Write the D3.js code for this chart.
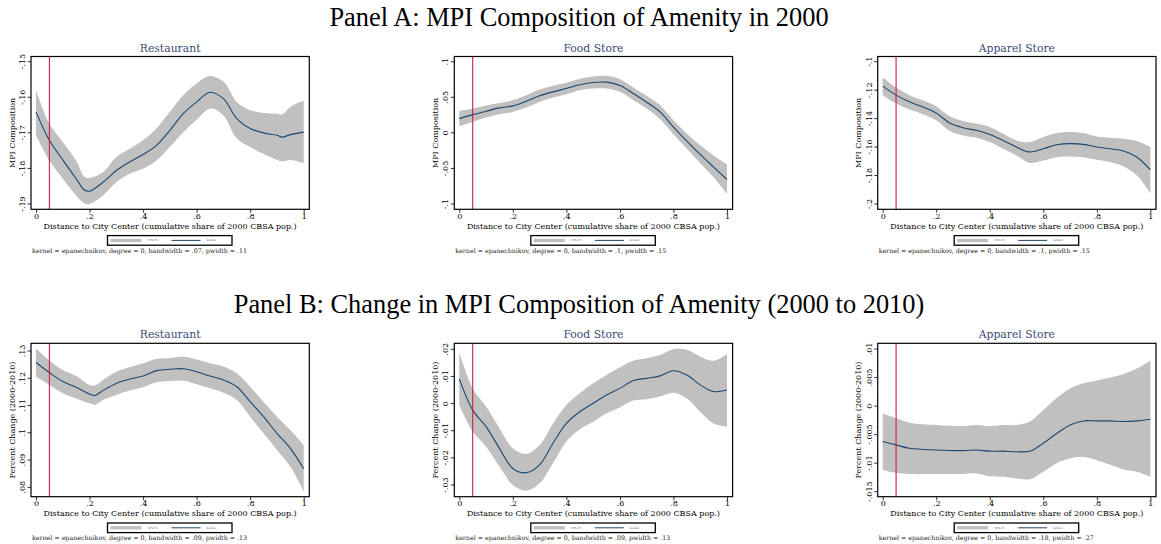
<!DOCTYPE html>
<html><head><meta charset="utf-8">
<script src="https://cdn.jsdelivr.net/npm/d3@7"></script>
<style>body{margin:0;background:#fff}svg{display:block}</style>
</head><body><div id="chart"></div>
<script>
// ---------- DATA ----------
const panelTitles = ["Panel A: MPI Composition of Amenity in 2000", "Panel B: Change in MPI Composition of Amenity (2000 to 2010)"];
const amenities = ["Restaurant", "Food Store", "Apparel Store"];
const yAxisTitles = ["MPI Composition", "Percent Change (2000-2010)"];
const xAxisTitle = "Distance to City Center (cumulative share of 2000 CBSA pop.)";
const xTicks = [0, .2, .4, .6, .8, 1];
const xTickLabels = ["0", ".2", ".4", ".6", ".8", "1"];
const cutoff = 0.05;
const legendLabels = ["95% CI", "Kernel"];

// Panel A, Restaurant
const aRestX   = [0,.05,.1,.15,.18,.2,.25,.3,.35,.4,.45,.5,.55,.6,.65,.7,.75,.8,.85,.9,.92,.95,1];
const aRestFit = [-.1641,-.1721,-.1776,-.1829,-.1860,-.1864,-.1839,-.1806,-.1782,-.1761,-.1735,-.1693,-.1646,-.1613,-.1586,-.1604,-.1660,-.1688,-.1700,-.1707,-.1712,-.1705,-.1698];
const aRestHi  = [-.1580,-.1674,-.1726,-.1778,-.1823,-.1827,-.1811,-.1768,-.1745,-.1721,-.1688,-.1641,-.1594,-.1561,-.1540,-.1556,-.1613,-.1636,-.1644,-.1646,-.1648,-.1627,-.1610];
const aRestLo  = [-.1707,-.1778,-.1829,-.1876,-.1898,-.1900,-.1876,-.1839,-.1815,-.1801,-.1778,-.1740,-.1698,-.1663,-.1632,-.1651,-.1716,-.1740,-.1759,-.1776,-.1780,-.1776,-.1785];
const aRestTicks = [-.19,-.18,-.17,-.16,-.15];
const aRestTickLabels = ["-.19","-.18","-.17","-.16","-.15"];
const aRestNote = "kernel = epanechnikov, degree = 0, bandwidth = .07, pwidth = .11";

// Panel A, Food Store
const aFoodX   = [0,.05,.1,.15,.2,.25,.3,.35,.4,.45,.5,.55,.6,.65,.7,.75,.8,.85,.9,.95,1];
const aFoodFit = [.0200,.0256,.0304,.0351,.0379,.0445,.0520,.0576,.0624,.0675,.0708,.0713,.0666,.0553,.0431,.0294,.0082,-.0115,-.0304,-.0482,-.0656];
const aFoodHi  = [.0304,.0341,.0384,.0421,.0459,.0529,.0609,.0661,.0704,.0760,.0793,.0802,.0755,.0638,.0520,.0388,.0176,-.0012,-.0176,-.0318,-.0445];
const aFoodLo  = [.0092,.0153,.0214,.0261,.0294,.0355,.0435,.0496,.0544,.0600,.0624,.0624,.0576,.0459,.0341,.0191,-.0021,-.0224,-.0426,-.0624,-.0859];
const aFoodTicks = [-.1,-.05,0,.05,.1];
const aFoodTickLabels = ["-.1","-.05","0",".05",".1"];
const aFoodNote = "kernel = epanechnikov, degree = 0, bandwidth = .1, pwidth = .15";

// Panel A, Apparel Store
const aAppX   = [0,.05,.1,.15,.2,.25,.3,.35,.4,.45,.5,.55,.6,.65,.7,.75,.8,.85,.9,.95,1];
const aAppFit = [-.1172,-.1235,-.1282,-.1318,-.1360,-.1431,-.1464,-.1482,-.1511,-.1553,-.1600,-.1635,-.1612,-.1584,-.1576,-.1581,-.1600,-.1612,-.1628,-.1671,-.1760];
const aAppHi  = [-.1111,-.1181,-.1235,-.1271,-.1313,-.1384,-.1416,-.1435,-.1459,-.1506,-.1553,-.1565,-.1529,-.1501,-.1494,-.1501,-.1525,-.1534,-.1541,-.1558,-.1600];
const aAppLo  = [-.1235,-.1294,-.1336,-.1369,-.1412,-.1487,-.1518,-.1534,-.1565,-.1612,-.1659,-.1711,-.1694,-.1671,-.1666,-.1671,-.1689,-.1706,-.1736,-.1800,-.1925];
const aAppTicks = [-.2,-.18,-.16,-.14,-.12,-.1];
const aAppTickLabels = ["-.2","-.18","-.16","-.14","-.12","-.1"];
const aAppNote = "kernel = epanechnikov, degree = 0, bandwidth = .1, pwidth = .15";

// Panel B, Restaurant
const bRestX   = [0,.05,.1,.15,.2,.22,.25,.3,.35,.4,.45,.5,.55,.6,.65,.7,.75,.8,.85,.9,.95,1];
const bRestFit = [.1258,.1221,.1188,.1167,.1142,.1137,.1155,.1181,.1197,.1208,.1228,.1233,.1235,.1224,.1208,.1194,.1169,.1114,.1059,.0998,.0943,.0868];
const bRestHi  = [.1310,.1265,.1230,.1208,.1175,.1173,.1194,.1224,.1240,.1255,.1271,.1274,.1279,.1269,.1255,.1243,.1218,.1169,.1114,.1059,.1010,.0955];
const bRestLo  = [.1206,.1175,.1145,.1126,.1108,.1102,.1120,.1139,.1155,.1167,.1185,.1190,.1191,.1178,.1163,.1147,.1120,.1059,.0998,.0937,.0876,.0784];
const bRestTicks = [.08,.09,.1,.11,.12,.13];
const bRestTickLabels = [".08",".09",".1",".11",".12",".13"];
const bRestNote = "kernel = epanechnikov, degree = 0, bandwidth = .09, pwidth = .13";

// Panel B, Food Store
const bFoodX   = [0,.05,.1,.15,.2,.25,.3,.35,.4,.45,.5,.55,.6,.65,.7,.75,.8,.85,.9,.95,1];
const bFoodFit = [.0091,-.0024,-.0085,-.0165,-.0239,-.0255,-.0226,-.0146,-.0073,-.0030,.0001,.0032,.0056,.0085,.0093,.0102,.0121,.0105,.0069,.0044,.0050];
const bFoodHi  = [.0188,.0056,-.0011,-.0091,-.0165,-.0186,-.0153,-.0073,-.0005,.0038,.0075,.0105,.0134,.0158,.0167,.0179,.0200,.0198,.0173,.0158,.0183];
const bFoodLo  = [-.0005,-.0103,-.0159,-.0232,-.0300,-.0321,-.0294,-.0220,-.0140,-.0095,-.0067,-.0036,-.0014,.0011,.0016,.0026,.0040,.0019,-.0030,-.0073,-.0085];
const bFoodTicks = [-.03,-.02,-.01,0,.01,.02];
const bFoodTickLabels = ["-.03","-.02","-.01","0",".01",".02"];
const bFoodNote = "kernel = epanechnikov, degree = 0, bandwidth = .09, pwidth = .13";

// Panel B, Apparel Store
const bAppX   = [0,.05,.1,.2,.3,.35,.4,.45,.5,.55,.6,.65,.7,.75,.8,.85,.9,.95,1];
const bAppFit = [-.0062,-.0068,-.0074,-.0077,-.0078,-.0077,-.0079,-.0079,-.0080,-.0079,-.0065,-.0048,-.0033,-.0026,-.0026,-.0026,-.0027,-.0026,-.0023];
const bAppHi  = [-.0013,-.0021,-.0029,-.0033,-.0035,-.0033,-.0035,-.0033,-.0033,-.0027,-.0007,.0014,.0031,.0040,.0045,.0050,.0056,.0066,.0080];
const bAppLo  = [-.0112,-.0117,-.0119,-.0119,-.0119,-.0118,-.0123,-.0124,-.0127,-.0128,-.0115,-.0100,-.0092,-.0089,-.0095,-.0103,-.0111,-.0115,-.0124];
const bAppTicks = [-.015,-.01,-.005,0,.005,.01];
const bAppTickLabels = ["-.015","-.01","-.005","0",".005",".01"];
const bAppNote = "kernel = epanechnikov, degree = 0, bandwidth = .18, pwidth = .27";

// ---------- LAYOUT ----------
const W = 1161, H = 544;
const colLeft = [31, 454.3, 877.7];
const frameW = 278.3;
const rowFrame = [[56.5, 209.3], [343.3, 496.7]];
const titleBaseline = [26, 312.5];
// pixel position of lowest and highest y tick in each panel
const tickPx = [
  [[204, 61.7], [204, 61.7], [204, 61.7]],
  [[487.3, 351], [485, 349.3], [491.7, 349]]
];

const panels = [
  [
    {x:aRestX, fit:aRestFit, lo:aRestLo, hi:aRestHi, ticks:aRestTicks, labels:aRestTickLabels, note:aRestNote},
    {x:aFoodX, fit:aFoodFit, lo:aFoodLo, hi:aFoodHi, ticks:aFoodTicks, labels:aFoodTickLabels, note:aFoodNote},
    {x:aAppX, fit:aAppFit, lo:aAppLo, hi:aAppHi, ticks:aAppTicks, labels:aAppTickLabels, note:aAppNote}
  ],
  [
    {x:bRestX, fit:bRestFit, lo:bRestLo, hi:bRestHi, ticks:bRestTicks, labels:bRestTickLabels, note:bRestNote},
    {x:bFoodX, fit:bFoodFit, lo:bFoodLo, hi:bFoodHi, ticks:bFoodTicks, labels:bFoodTickLabels, note:bFoodNote},
    {x:bAppX, fit:bAppFit, lo:bAppLo, hi:bAppHi, ticks:bAppTicks, labels:bAppTickLabels, note:bAppNote}
  ]
];

const CI = "#c0c0c0", NAVY = "#1a476f", RED = "#cc1f45", SUBT = "#3b4a78";
const serif = "DejaVu Serif, serif";
const AX = 8.0;

const svg = d3.select("#chart").append("svg").attr("width", W).attr("height", H);

panelTitles.forEach((t, r) => {
  svg.append("text").attr("x", 579).attr("y", titleBaseline[r]).attr("text-anchor", "middle")
    .attr("font-family", "Liberation Serif, Times New Roman, serif")
    .attr("font-size", 26.4).attr("fill", "#000").text(t);
});

panels.forEach((row, r) => {
  row.forEach((p, c) => {
    const L = colLeft[c], R = L + frameW, T = rowFrame[r][0], B = rowFrame[r][1];
    const x = d3.scaleLinear().domain([0, 1]).range([L + 5, R - 5.6]);
    const tk = p.ticks;
    const y = d3.scaleLinear().domain([tk[0], tk[tk.length - 1]]).range(tickPx[r][c]);
    const g = svg.append("g");

    // CI band
    const rows = p.x.map((v, i) => ({x: v, fit: p.fit[i], lo: p.lo[i], hi: p.hi[i]}));
    const area = d3.area().x(d => x(d.x)).y0(d => y(d.lo)).y1(d => y(d.hi)).curve(d3.curveCatmullRom.alpha(0.5));
    g.append("path").datum(rows).attr("d", area).attr("fill", CI);
    const line = d3.line().x(d => x(d.x)).y(d => y(d.fit)).curve(d3.curveCatmullRom.alpha(0.5));
    g.append("path").datum(rows).attr("d", line).attr("fill", "none").attr("stroke", NAVY).attr("stroke-width", 1.1);

    // cutoff line
    g.append("line").attr("x1", x(cutoff)).attr("x2", x(cutoff)).attr("y1", T).attr("y2", B)
      .attr("stroke", RED).attr("stroke-width", 1.1);

    // frame
    g.append("rect").attr("x", L).attr("y", T).attr("width", frameW).attr("height", B - T)
      .attr("fill", "none").attr("stroke", "#000").attr("stroke-width", 1.2);

    // x axis
    const xa = g.append("g").attr("transform", `translate(0,${B})`)
      .call(d3.axisBottom(x).tickValues(xTicks).tickFormat((d, i) => xTickLabels[i]).tickSize(3.5).tickPadding(0.5));
    xa.select(".domain").remove();
    xa.selectAll("line").attr("stroke", "#000").attr("stroke-width", 0.8);
    xa.selectAll("text").attr("font-family", serif).attr("font-size", AX).attr("fill", "#000");

    // y axis
    const ya = g.append("g").attr("transform", `translate(${L},0)`)
      .call(d3.axisLeft(y).tickValues(tk).tickFormat((d, i) => p.labels[i]).tickSize(3.5).tickPadding(2));
    ya.select(".domain").remove();
    ya.selectAll("line").attr("stroke", "#000").attr("stroke-width", 0.8);
    ya.selectAll("text").attr("font-family", serif).attr("font-size", AX).attr("fill", "#000")
      .attr("text-anchor", "middle").attr("dominant-baseline", "auto")
      .attr("x", 0).attr("dy", 0)
      .attr("transform", d => `translate(${-6.2},${y(d)}) rotate(-90)`).attr("y", 0);
    ya.selectAll(".tick").attr("transform", null);
    ya.selectAll(".tick line").attr("transform", d => `translate(0,${y(d)})`);

    // subtitle
    g.append("text").attr("x", (L + R) / 2).attr("y", T - 5).attr("text-anchor", "middle")
      .attr("font-family", serif).attr("font-size", 10.8)
      .attr("fill", SUBT).text(amenities[c]);

    // y title
    g.append("text").attr("transform", `translate(${L - 16.5},${(T + B) / 2}) rotate(-90)`)
      .attr("text-anchor", "middle")
      .attr("font-family", serif).attr("font-size", AX).attr("fill", "#000").text(yAxisTitles[r]);

    // x title
    g.append("text").attr("x", (L + R) / 2).attr("y", B + 19.5).attr("text-anchor", "middle")
      .attr("font-family", serif).attr("font-size", AX)
      .attr("fill", "#000").text(xAxisTitle);

    // legend
    const lx = L + 76.5, ly = B + 26.3, lw = 124.5, lh = 9.6;
    g.append("rect").attr("x", lx).attr("y", ly).attr("width", lw).attr("height", lh)
      .attr("fill", "#fff").attr("stroke", "#000").attr("stroke-width", 1.3);
    const my = ly + lh / 2;
    g.append("line").attr("x1", lx + 3).attr("x2", lx + 34).attr("y1", my).attr("y2", my)
      .attr("stroke", CI).attr("stroke-width", 3.3);
    g.append("text").attr("x", lx + 40).attr("y", my + 1).attr("font-family", serif)
      .attr("font-size", 2.8).attr("fill", "#555").text(legendLabels[0]);
    g.append("line").attr("x1", lx + 64).attr("x2", lx + 93).attr("y1", my).attr("y2", my)
      .attr("stroke", NAVY).attr("stroke-width", 1);
    g.append("text").attr("x", lx + 99).attr("y", my + 1).attr("font-family", serif)
      .attr("font-size", 2.8).attr("fill", "#555").text(legendLabels[1]);

    // note
    g.append("text").attr("x", L + 1).attr("y", B + 43.6)
      .attr("font-family", serif).attr("font-size", 6.3).attr("fill", "#222").text(p.note);
  });
});
</script></body></html>
